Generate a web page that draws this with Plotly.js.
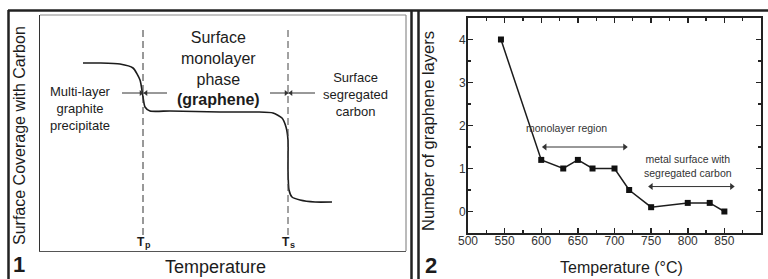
<!DOCTYPE html>
<html>
<head>
<meta charset="utf-8">
<script src="https://cdn.plot.ly/plotly-3.0.1.min.js"></script>
<style>html,body{margin:0;padding:0;background:#fff;}#chart{width:768px;height:279px;}</style>
</head>
<body>
<div id="chart"></div>
<script>
// ---- Panel 1 (schematic): surface coverage vs temperature (arbitrary units)
const coverageTemp = [43, 60, 80, 93, 100, 103, 105, 110, 130, 180, 217, 233, 242, 246, 248, 248, 249, 252, 260, 275, 292];
const coverage     = [188, 188, 187, 183, 171, 154, 144, 140, 140, 139, 139, 138, 133, 124, 111, 81, 61, 54, 51, 49, 49];
const phaseTemps   = [103, 248];              // Tp, Ts
const phaseSubs    = ['p', 's'];
const dashTop = 224, dashBottom = 16;
const boundaryArrowY = 158;
const tpArrowSpan = [82, 127], tsArrowSpan = [230, 275];
const tpArrowHeads = [101, 106], tsArrowHeads = [246, 251];

// ---- Panel 2: number of graphene layers vs temperature
const tempC  = [545, 600, 630, 650, 670, 700, 720, 750, 800, 830, 850];
const layers = [4, 1.2, 1.0, 1.2, 1.0, 1.0, 0.5, 0.1, 0.2, 0.2, 0.0];
const monolayerRange = [605, 714], monolayerArrowY = 1.5;
const metalRange = [750, 860], metalArrowY = 0.58;

const W = 768, H = 279;
const px = v => v / W;
const py = v => 1 - v / H;
const FONT = 'Liberation Sans, Arial, Helvetica, sans-serif';
const INK = '#1c1c1c';
const AR = '#333';

function seg(xs, y, xa, ya) {
  return {x: xs, y: [y, y], xaxis: xa, yaxis: ya, mode: 'lines', line: {color: AR, width: 1}, hoverinfo: 'skip'};
}
function heads(xs, y, xa, ya, syms, size) {
  return {x: xs, y: [y, y], xaxis: xa, yaxis: ya, mode: 'markers',
          marker: {symbol: syms, size: size, color: AR, line: {width: 0}}, hoverinfo: 'skip'};
}

const traces = [
  {x: coverageTemp, y: coverage, xaxis: 'x', yaxis: 'y', mode: 'lines',
   line: {color: INK, width: 1.6, shape: 'spline', smoothing: 0.6}, hoverinfo: 'skip'},
  {x: [phaseTemps[0], phaseTemps[0]], y: [dashBottom, dashTop], xaxis: 'x', yaxis: 'y', mode: 'lines',
   line: {color: '#333', width: 1, dash: '7px,4px'}, hoverinfo: 'skip'},
  {x: [phaseTemps[1], phaseTemps[1]], y: [dashBottom, dashTop], xaxis: 'x', yaxis: 'y', mode: 'lines',
   line: {color: '#444', width: 1, dash: '7px,4px'}, hoverinfo: 'skip'},
  seg(tpArrowSpan, boundaryArrowY, 'x', 'y'),
  heads(tpArrowHeads, boundaryArrowY, 'x', 'y', ['triangle-right', 'triangle-left'], 5),
  seg(tsArrowSpan, boundaryArrowY, 'x', 'y'),
  heads(tsArrowHeads, boundaryArrowY, 'x', 'y', ['triangle-right', 'triangle-left'], 5),
  {x: tempC, y: layers, xaxis: 'x2', yaxis: 'y2', mode: 'lines+markers',
   line: {color: INK, width: 1.5}, marker: {symbol: 'square', size: 6, color: '#111'}, hoverinfo: 'skip'},
  seg(monolayerRange, monolayerArrowY, 'x2', 'y2'),
  heads(monolayerRange, monolayerArrowY, 'x2', 'y2', ['triangle-left', 'triangle-right'], 6),
  seg(metalRange, metalArrowY, 'x2', 'y2'),
  heads(metalRange, metalArrowY, 'x2', 'y2', ['triangle-left', 'triangle-right'], 6)
];

const ann = [];
function txt(text, x, y, size, opts) {
  ann.push(Object.assign({text: text, x: x, y: y, showarrow: false,
    font: {family: FONT, size: size, color: INK}, xanchor: 'center', yanchor: 'middle'}, opts || {}));
}
// Panel 1 texts
txt('Surface<br>monolayer<br>phase<br><b>(graphene)</b>', 178, 182, 16, {xref: 'x', yref: 'y'});
txt('Multi-layer<br>graphite<br>precipitate', 40, 142, 13, {xref: 'x', yref: 'y'});
txt('Surface<br>segregated<br>carbon', 315, 156, 13, {xref: 'x', yref: 'y'});
phaseTemps.forEach((t, i) => {
  txt('<b>T</b>', t - 2, 9, 12, {xref: 'x', yref: 'y'});
  txt('<b>' + phaseSubs[i] + '</b>', t + 4.5, 6, 9, {xref: 'x', yref: 'y'});
});
// Panel 1 axis titles & label
txt('Surface Coverage with Carbon', px(20), py(136), 16, {xref: 'paper', yref: 'paper', textangle: -90});
txt('Temperature', px(215), py(267), 18, {xref: 'paper', yref: 'paper'});
txt('<b>1</b>', px(19), py(264), 22, {xref: 'paper', yref: 'paper'});

// Panel 2 texts
txt('monolayer region', 634, 1.95, 10.5, {xref: 'x2', yref: 'y2', font: {family: FONT, size: 10.5, color: '#333'}});
txt('metal surface with<br>segregated carbon', 801, 1.06, 10.5, {xref: 'x2', yref: 'y2', font: {family: FONT, size: 10.5, color: '#333'}});
txt('Number of graphene layers', px(428), py(131), 16.5, {xref: 'paper', yref: 'paper', textangle: -90});
txt('Temperature (°C)', px(621), py(267), 16, {xref: 'paper', yref: 'paper'});
txt('<b>2</b>', px(431), py(265), 22, {xref: 'paper', yref: 'paper'});

function vline(x, y0, y1, w, c) {
  return {type: 'line', xref: 'paper', yref: 'paper', x0: px(x), x1: px(x), y0: py(y0), y1: py(y1),
          line: {color: c, width: w}};
}
function hline(y, x0, x1, w, c) {
  return {type: 'line', xref: 'paper', yref: 'paper', x0: px(x0), x1: px(x1), y0: py(y), y1: py(y),
          line: {color: c, width: w}};
}
const shapes = [
  hline(10.5, 8, 768, 2.5, '#222'),
  vline(8.5, 10, 279, 2.5, '#222'),
  vline(411.5, 10, 279, 2.5, '#222'),
  vline(418.5, 10, 279, 2.5, '#222'),
  vline(406, 15, 251, 1, '#777'),
  hline(15, 40, 406, 1, '#888')
];

const layout = {
  width: W, height: H,
  margin: {l: 0, r: 0, t: 0, b: 0, pad: 0},
  paper_bgcolor: '#fff', plot_bgcolor: '#fff',
  showlegend: false,
  font: {family: FONT, color: INK},
  xaxis: {domain: [px(40), px(406)], range: [0, 366], showgrid: false, zeroline: false,
          showticklabels: false, ticks: '', showline: true, linecolor: '#555', linewidth: 1},
  yaxis: {domain: [py(251), py(15)], range: [0, 236], showgrid: false, zeroline: false,
          showticklabels: false, ticks: '', showline: true, linecolor: '#333', linewidth: 1.5},
  xaxis2: {domain: [px(468), px(761)], range: [500, 900], anchor: 'y2', showgrid: false, zeroline: false,
           tick0: 500, dtick: 50, ticks: 'inside', ticklen: 5, tickwidth: 1.5, tickcolor: '#222',
           minor: {dtick: 25, ticks: 'inside', ticklen: 3, tickwidth: 1.2, tickcolor: '#222'},
           showline: true, mirror: 'allticks', linecolor: '#222', linewidth: 2,
           ticklabelstandoff: -4,
           tickfont: {family: FONT, size: 12, color: '#333'}},
  yaxis2: {domain: [py(233), py(18)], range: [-0.5, 4.5], anchor: 'x2', showgrid: false, zeroline: false,
           tick0: 0, dtick: 1, ticks: 'inside', ticklen: 5, tickwidth: 1.5, tickcolor: '#222',
           minor: {dtick: 0.5, ticks: 'inside', ticklen: 3, tickwidth: 1.2, tickcolor: '#222'},
           showline: true, mirror: 'allticks', linecolor: '#222', linewidth: 2,
           ticklabelstandoff: -2,
           tickfont: {family: FONT, size: 12, color: '#333'}},
  annotations: ann,
  shapes: shapes
};

Plotly.newPlot('chart', traces, layout, {staticPlot: true, displayModeBar: false});
</script>
</body>
</html>
